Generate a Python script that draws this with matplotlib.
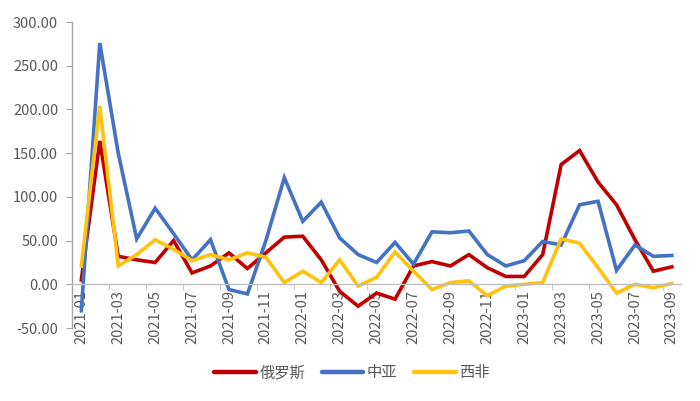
import matplotlib
matplotlib.use("Agg")
import matplotlib.pyplot as plt
import numpy as np

plt.rcParams['font.family'] = ['Noto Sans CJK SC', 'DejaVu Sans']

months = [f"{y}-{m:02d}" for y in (2021, 2022, 2023) for m in range(1, 13)][:33]

russia = [5, 164, 32, 28, 25, 50, 13, 21, 36, 18, 36, 54,
          55, 28, -8, -25, -10, -17, 21, 26, 21, 34, 19, 9,
          9, 34, 137, 153, 117, 91, 51, 15, 20]
central_asia = [-30, 276, 150, 52, 87, 58, 28, 51, -6, -11, 50, 122,
                72, 94, 53, 34, 25, 48, 23, 60, 59, 61, 34, 21,
                27, 49, 45, 91, 95, 16, 45, 32, 33]
west_africa = [21, 204, 21, 34, 51, 40, 27, 34, 28, 36, 31, 2,
               15, 2, 28, -2, 8, 37, 15, -6, 2, 4, -13, -2,
               0, 2, 52, 47, 19, -10, 0, -4, 1]

series_names = ['俄罗斯', '中亚', '西非']
colors = ['#C00000', '#4472C4', '#FFC20E']

fig = plt.figure(figsize=(7.0, 4.01), dpi=100)
ax = fig.add_axes([0.103, 0.182, 0.870, 0.763])

x = np.arange(len(months))
for vals, name, c in zip([russia, central_asia, west_africa], series_names, colors):
    ax.plot(x, vals, color=c, lw=2.6, label=name, solid_joinstyle='miter')

ax.set_xlim(-0.5, len(months) - 0.5)
ax.set_ylim(-50, 300)
ax.set_yticks(np.arange(-50, 301, 50))
ax.set_yticklabels([f"{v:.2f}" for v in np.arange(-50, 301, 50)])

ax.spines['top'].set_visible(False)
ax.spines['right'].set_visible(False)
ax.spines['bottom'].set_position(('data', 0))
ax.spines['bottom'].set_color('#BFBFBF')
ax.spines['left'].set_color('#A6A6A6')
ax.spines['bottom'].set_linewidth(1.0)
ax.spines['left'].set_linewidth(1.0)

ax.set_xticks(x[::2])
ax.set_xticklabels(months[::2], rotation=90)
ax.set_xticks(np.arange(1.5, len(months) - 1, 2), minor=True)
ax.tick_params(axis='x', which='major', length=0, pad=4, labelsize=10.5, labelcolor='#595959')
ax.tick_params(axis='x', which='minor', length=4, color='#BFBFBF', direction='out')
ax.tick_params(axis='y', length=4, color='#A6A6A6', labelsize=10.5, labelcolor='#595959', pad=6)

leg = fig.legend(loc='center', bbox_to_anchor=(0.503, 0.070), ncol=3, frameon=False,
                 fontsize=11, handlelength=2.7, columnspacing=1.1, handletextpad=0.25)
for t in leg.get_texts():
    t.set_color('#595959')
for l in leg.get_lines():
    l.set_linewidth(3.2)
    l.set_solid_capstyle('round')

fig.savefig('out.png', dpi=100)
